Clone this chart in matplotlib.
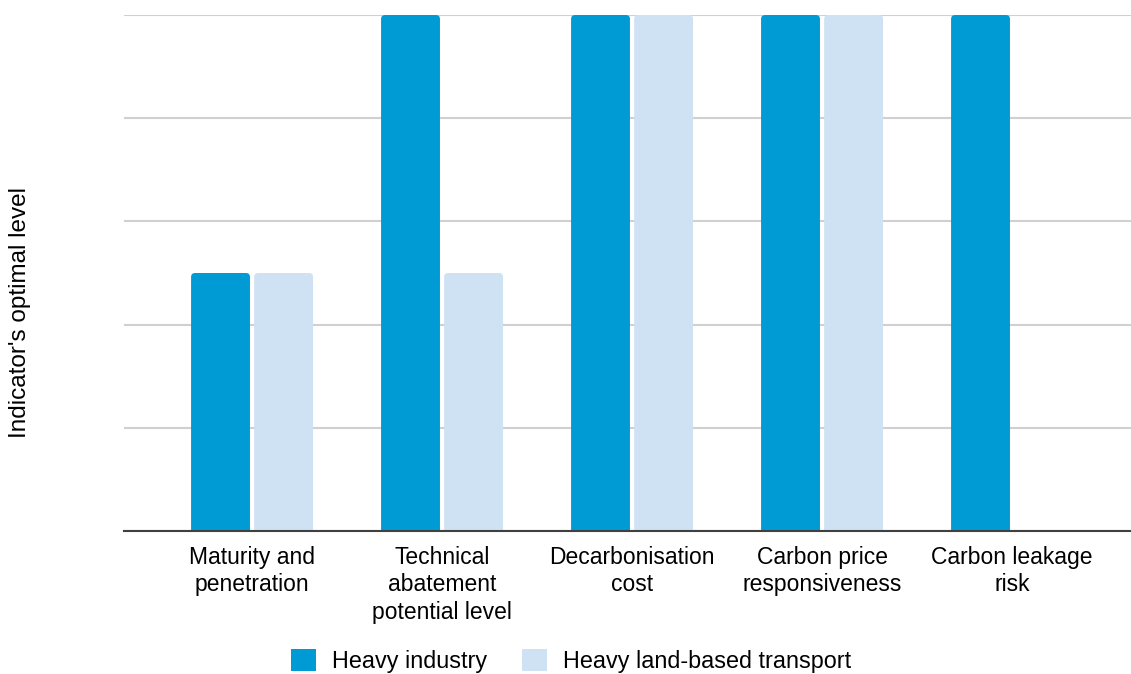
import matplotlib
matplotlib.use("Agg")
import matplotlib.pyplot as plt
from matplotlib.patches import FancyBboxPatch, Patch
import numpy as np

plt.rcParams['font.family'] = ['Liberation Sans', 'DejaVu Sans']

categories = [
    "Maturity and\npenetration",
    "Technical\nabatement\npotential level",
    "Decarbonisation\ncost",
    "Carbon price\nresponsiveness",
    "Carbon leakage\nrisk",
]
heavy_industry = [2.5, 5, 5, 5, 5]
heavy_transport = [2.5, 2.5, 5, 5, 0]
series_names = ["Heavy industry", "Heavy land-based transport"]
colors = ["#009bd5", "#cfe2f3"]

W, H = 1131, 674
fig = plt.figure(figsize=(W / 100, H / 100), dpi=100)
ax_left, ax_right, ax_top, ax_bottom = 124, 1131, 15, 531
ax = fig.add_axes([ax_left / W, 1 - ax_bottom / H,
                   (ax_right - ax_left) / W, (ax_bottom - ax_top) / H])

x = np.arange(len(categories))
bw = 0.31
off = 0.166
bars1 = ax.bar(x - off, heavy_industry, bw, color=colors[0], zorder=2)
bars2 = ax.bar(x + off, heavy_transport, bw, color=colors[1], zorder=2)

ax.set_xlim(-0.674, 4.626)
ax.set_ylim(0, 5)

# rounded tops: swap each rectangle for a rounded box of the same extent
px_per_x = (ax_right - ax_left) / (4.626 + 0.674)
px_per_y = (ax_bottom - ax_top) / 5.0
r = 4 / px_per_x
aspect = px_per_x / px_per_y
for bars in (bars1, bars2):
    for b in bars:
        h = b.get_height()
        if h <= 0:
            continue
        p = FancyBboxPatch((b.get_x(), -0.2), b.get_width(), h + 0.2,
                           boxstyle=f"round,pad=0,rounding_size={r}",
                           mutation_aspect=aspect,
                           facecolor=b.get_facecolor(), edgecolor="none",
                           zorder=2)
        b.remove()
        ax.add_patch(p)

ax.set_yticks(np.arange(0, 6, 1))
ax.set_yticklabels([])
ax.tick_params(axis='y', length=0)
ax.grid(axis='y', color="#d0d0d0", linewidth=1.5, zorder=0)
ax.set_axisbelow(True)
for s in ("top", "right", "left"):
    ax.spines[s].set_visible(False)
ax.spines["bottom"].set_color("#404040")
ax.spines["bottom"].set_linewidth(1.5)
ax.spines["bottom"].set_zorder(3)

ax.set_xticks(x)
ax.set_xticklabels(categories, fontsize=16.5, linespacing=1.27, va="top")
ax.tick_params(axis='x', length=0, pad=10.5)

fig.text(20 / W, 1 - 312 / H, "Indicator's optimal level", rotation=90,
         fontsize=17.5, ha="center", va="center")

handles = [Patch(facecolor=c, edgecolor="none") for c in colors]
fig.legend(handles, series_names, loc="center", bbox_to_anchor=(571 / W, 1 - 661 / H),
           ncol=2, frameon=False, fontsize=16.8, handlelength=1.05, handleheight=1.05,
           handletextpad=0.7, columnspacing=1.5, borderpad=0)

fig.savefig("out.png", dpi=100)
